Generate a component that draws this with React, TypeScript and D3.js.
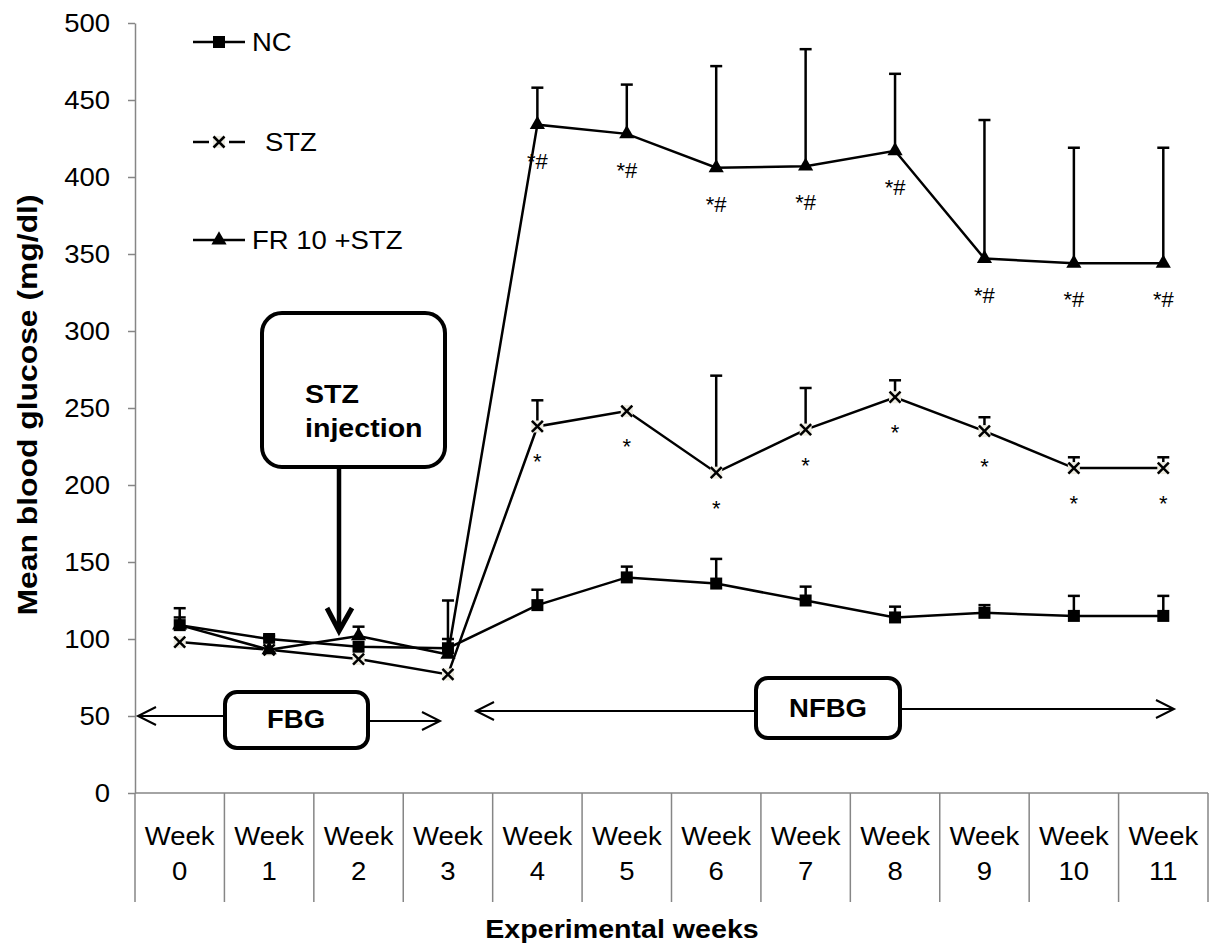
import React, { useEffect, useRef } from "react";
import * as d3 from "d3";

// categories
const weeks = ["Week 0", "Week 1", "Week 2", "Week 3", "Week 4", "Week 5", "Week 6", "Week 7", "Week 8", "Week 9", "Week 10", "Week 11"];

// means (mg/dl) and upper error (SEM)
const ncMean = [109, 100, 95, 94, 122, 140, 136, 125, 114, 117, 115, 115];
const ncErr = [5, 2, 0, 6, 10, 7, 16, 9, 7, 5, 13, 13];
const stzMean = [98, 93, 87, 77, 238, 248, 208, 236, 257, 235, 211, 211];
const stzErr = [0, 0, 0, 0, 17, 0, 63, 27, 11, 9, 7, 7];
const frMean = [109, 93, 102, 90, 434, 428, 406, 407, 417, 347, 344, 344];
const frErr = [11, 0, 6, 35, 24, 32, 66, 76, 50, 90, 75, 75];

// significance marks
const stzSig = ["", "", "", "", "*", "*", "*", "*", "*", "*", "*", "*"];
const frSig = ["", "", "", "", "*#", "*#", "*#", "*#", "*#", "*#", "*#", "*#"];

const yTicks = [0, 50, 100, 150, 200, 250, 300, 350, 400, 450, 500];

const FONT = "'Liberation Sans', Arial, sans-serif";
const SX = 1.1; // text in the original is a little stretched sideways
const GREY = "#868686";

export default function App() {
  const ref = useRef<SVGSVGElement | null>(null);

  useEffect(() => {
    const svg = d3.select(ref.current);
    svg.selectAll("*").remove();

    const left = 135, right = 1208, top = 23, bottom = 793;

    const x = d3.scaleBand().domain(weeks).range([left, right]).padding(0);
    const y = d3.scaleLinear().domain([0, 500]).range([bottom, top]);
    const cx = (i: number) => (x(weeks[i]) as number) + x.bandwidth() / 2;

    const txt = (g: any, tx: number, ty: number, s: string, size: number, weight = "normal", anchor = "start", rot = 0, sx = SX) =>
      g.append("text")
        .attr("transform", `translate(${tx},${ty})${rot ? ` rotate(${rot})` : ""} scale(${sx},1)`)
        .attr("font-family", FONT)
        .attr("font-size", size)
        .attr("font-weight", weight)
        .attr("text-anchor", anchor)
        .attr("fill", "#000")
        .text(s);

    // y axis
    const yAxis = svg.append("g")
      .attr("transform", `translate(${left},0)`)
      .call(d3.axisLeft(y).tickValues(yTicks).tickSize(7).tickSizeOuter(0).tickPadding(25));
    yAxis.select(".domain").attr("stroke", GREY).attr("stroke-width", 1.5);
    yAxis.selectAll(".tick line").attr("stroke", GREY).attr("stroke-width", 1.5);
    yAxis.selectAll(".tick text")
      .attr("font-family", FONT)
      .attr("font-size", 25)
      .attr("fill", "#000")
      .attr("x", -25 / SX)
      .attr("transform", `scale(${SX},1)`);

    // x axis line and category dividers
    svg.append("line")
      .attr("x1", left).attr("x2", right)
      .attr("y1", bottom).attr("y2", bottom)
      .attr("stroke", GREY).attr("stroke-width", 1.5);
    const edges = weeks.map((w) => x(w) as number).concat([right]);
    svg.append("g").selectAll("line")
      .data(edges)
      .enter()
      .append("line")
      .attr("x1", (d) => d).attr("x2", (d) => d)
      .attr("y1", bottom).attr("y2", 902)
      .attr("stroke", GREY).attr("stroke-width", 1.5);

    weeks.forEach((w, i) => {
      const parts = w.split(" ");
      txt(svg, cx(i), 845, parts[0], 25, "normal", "middle");
      txt(svg, cx(i), 880, parts[1], 25, "normal", "middle");
    });

    // axis titles
    txt(svg, 622, 938, "Experimental weeks", 26, "bold", "middle");
    txt(svg, 37, 405, "Mean blood glucose (mg/dl)", 27, "bold", "middle", -90, 1.18);

    // annotations: STZ injection
    svg.append("rect")
      .attr("x", 262).attr("y", 313).attr("width", 183).attr("height", 154)
      .attr("rx", 20).attr("fill", "#fff").attr("stroke", "#000").attr("stroke-width", 4);
    txt(svg, 305, 403, "STZ", 26, "bold");
    txt(svg, 305, 437, "injection", 26, "bold");
    svg.append("line")
      .attr("x1", 339).attr("x2", 339).attr("y1", 467).attr("y2", y(100) - 9)
      .attr("stroke", "#000").attr("stroke-width", 4.5);
    svg.append("path")
      .attr("d", `M327,${y(100) - 31}L339,${y(100) - 8}L352,${y(100) - 31}`)
      .attr("fill", "none").attr("stroke", "#000").attr("stroke-width", 5);

    // FBG / NFBG spans
    const arrowLine = (x1: number, x2: number, yy: number) => {
      svg.append("line").attr("x1", x1).attr("x2", x2).attr("y1", yy).attr("y2", yy)
        .attr("stroke", "#000").attr("stroke-width", 2);
    };
    const head = (tip: number, yy: number, dir: number) => {
      svg.append("path")
        .attr("d", `M${tip + dir * 18},${yy - 9}L${tip},${yy}L${tip + dir * 18},${yy + 9}`)
        .attr("fill", "none").attr("stroke", "#000").attr("stroke-width", 2);
    };
    const y50 = y(50);
    arrowLine(138, 225, y50);
    head(138, y50, 1);
    arrowLine(368, 440, y50 + 5);
    head(440, y50 + 5, -1);
    svg.append("rect")
      .attr("x", 225).attr("y", 692).attr("width", 143).attr("height", 56)
      .attr("rx", 12).attr("fill", "#fff").attr("stroke", "#000").attr("stroke-width", 4);
    txt(svg, 296, 728, "FBG", 25, "bold", "middle");

    arrowLine(476, 756, y50 - 5);
    head(476, y50 - 5, 1);
    arrowLine(900, 1174, y50 - 7);
    head(1174, y50 - 7, -1);
    svg.append("rect")
      .attr("x", 756).attr("y", 678).attr("width", 144).attr("height", 60)
      .attr("rx", 12).attr("fill", "#fff").attr("stroke", "#000").attr("stroke-width", 4);
    txt(svg, 828, 717, "NFBG", 25, "bold", "middle");

    // markers
    const drawMarker = (g: any, kind: string, px: number, py: number) => {
      if (kind === "square") {
        g.append("rect").attr("x", px - 6).attr("y", py - 6).attr("width", 12).attr("height", 12).attr("fill", "#000");
      } else if (kind === "triangle") {
        g.append("path")
          .attr("d", d3.symbol().type(d3.symbolTriangle).size(100)())
          .attr("transform", `translate(${px},${py})`)
          .attr("fill", "#000");
      } else {
        g.append("rect").attr("x", px - 6).attr("y", py - 6).attr("width", 12).attr("height", 12).attr("fill", "#eeece1");
        g.append("path")
          .attr("d", `M${px - 5.5},${py - 5.5}L${px + 5.5},${py + 5.5}M${px + 5.5},${py - 5.5}L${px - 5.5},${py + 5.5}`)
          .attr("stroke", "#000").attr("stroke-width", 2.5);
      }
    };

    const series = [
      { name: "NC", mean: ncMean, err: ncErr, marker: "square", sig: null as string[] | null, sigDy: 0 },
      { name: "STZ", mean: stzMean, err: stzErr, marker: "x", sig: stzSig, sigDy: 43 },
      { name: "FR 10 +STZ", mean: frMean, err: frErr, marker: "triangle", sig: frSig, sigDy: 44 },
    ];

    const line = d3.line<number>().x((_, i) => cx(i)).y((d) => y(d));

    series.forEach((s) => {
      const g = svg.append("g");
      g.append("path")
        .attr("d", line(s.mean))
        .attr("fill", "none").attr("stroke", "#000").attr("stroke-width", 2.5);

      s.mean.forEach((v, i) => {
        if (s.err[i] > 0) {
          const yt = y(v + s.err[i]);
          g.append("line").attr("x1", cx(i)).attr("x2", cx(i)).attr("y1", y(v)).attr("y2", yt)
            .attr("stroke", "#000").attr("stroke-width", 2.5);
          g.append("line").attr("x1", cx(i) - 6).attr("x2", cx(i) + 6).attr("y1", yt).attr("y2", yt)
            .attr("stroke", "#000").attr("stroke-width", 2.5);
        }
      });
      s.mean.forEach((v, i) => drawMarker(g, s.marker, cx(i), y(v)));

      if (s.sig) {
        s.sig.forEach((m, i) => {
          if (m) {
            g.append("text")
              .attr("x", cx(i)).attr("y", y(s.mean[i]) + s.sigDy)
              .attr("text-anchor", "middle")
              .attr("font-family", FONT)
              .attr("font-size", 22)
              .text(m);
          }
        });
      }
    });

    // legend
    const legendRows = [42, 142, 240];
    series.forEach((s, k) => {
      const ly = legendRows[k];
      const g = svg.append("g");
      if (s.marker === "x") {
        g.append("line").attr("x1", 193).attr("x2", 209).attr("y1", ly).attr("y2", ly).attr("stroke", "#000").attr("stroke-width", 2.5);
        g.append("line").attr("x1", 229).attr("x2", 245).attr("y1", ly).attr("y2", ly).attr("stroke", "#000").attr("stroke-width", 2.5);
      } else {
        g.append("line").attr("x1", 193).attr("x2", 245).attr("y1", ly).attr("y2", ly).attr("stroke", "#000").attr("stroke-width", 2.5);
      }
      drawMarker(g, s.marker, 219, ly);
      txt(g, s.marker === "x" ? 265 : 252, ly + 9, s.name, 25);
    });
  }, []);

  return (
    <svg
      ref={ref}
      width={1211}
      height={946}
      style={{ position: "absolute", left: 0, top: 0, background: "#fff" }}
    />
  );
}
